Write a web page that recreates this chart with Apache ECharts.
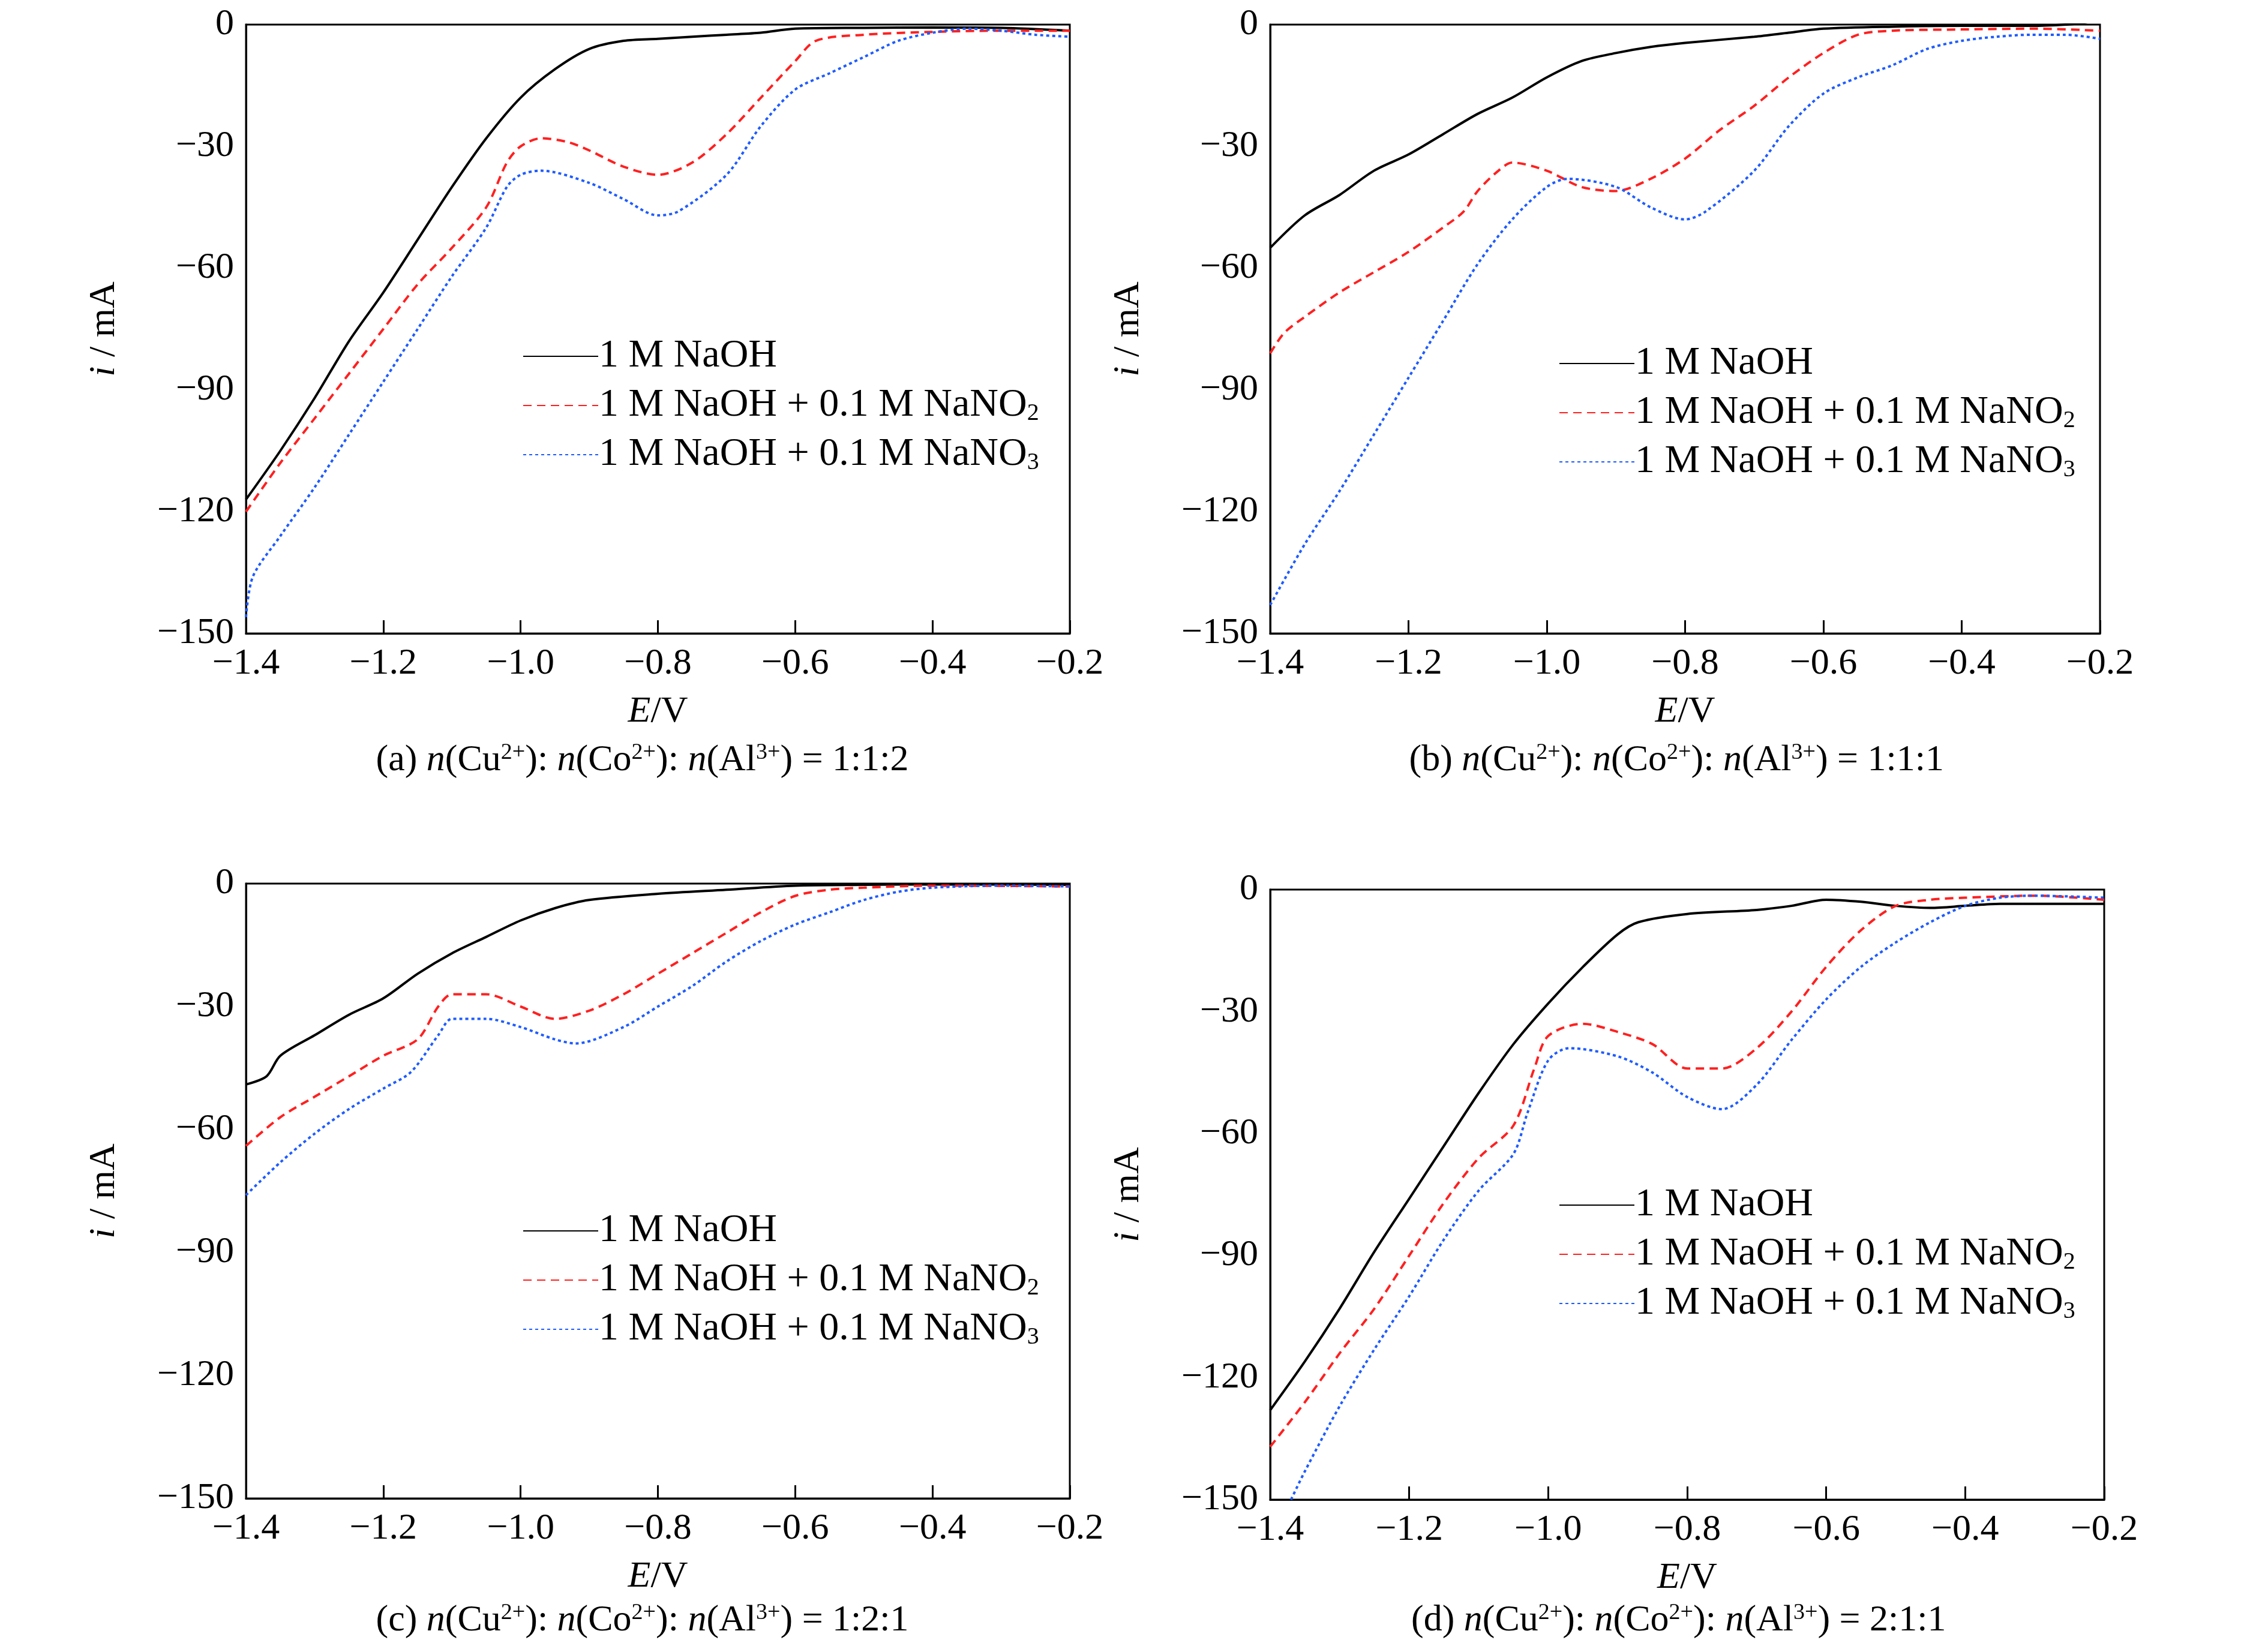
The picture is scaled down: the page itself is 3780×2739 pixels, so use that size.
<!DOCTYPE html>
<html><head><meta charset="utf-8">
<script src="https://cdn.jsdelivr.net/npm/echarts@6/dist/echarts.min.js"></script>
<style>html,body{margin:0;padding:0;background:#fff}#c{width:3780px;height:2739px}</style>
</head><body><div id="c"></div>
<script>
// Panel (a)
const aBlack = [[-1.4,-117],[-1.35,-105],[-1.3,-92],[-1.25,-78],[-1.2,-66],[-1.15,-53],[-1.1,-40],[-1.05,-28],[-1.0,-18],[-0.95,-11],[-0.9,-6],[-0.85,-4],[-0.8,-3.5],[-0.75,-3],[-0.7,-2.5],[-0.65,-2],[-0.6,-1],[-0.5,-0.8],[-0.4,-0.7],[-0.3,-0.8],[-0.2,-1.5]];
const aRed = [[-1.4,-120],[-1.35,-108],[-1.3,-97],[-1.25,-86],[-1.2,-75],[-1.15,-64],[-1.1,-55],[-1.05,-45],[-1.02,-34],[-1.0,-30],[-0.97,-28],[-0.93,-29],[-0.9,-31],[-0.85,-35],[-0.8,-37],[-0.75,-34],[-0.7,-27],[-0.65,-18],[-0.6,-9],[-0.57,-4],[-0.5,-2.5],[-0.4,-1.8],[-0.3,-1.5],[-0.2,-1.5]];
const aBlue = [[-1.4,-146],[-1.39,-136],[-1.35,-126],[-1.3,-114],[-1.25,-101],[-1.2,-88],[-1.15,-75],[-1.1,-62],[-1.05,-50],[-1.02,-40],[-1.0,-37],[-0.97,-36],[-0.9,-39],[-0.85,-43],[-0.8,-47],[-0.77,-46],[-0.7,-37],[-0.65,-25],[-0.6,-16],[-0.55,-12],[-0.5,-8],[-0.45,-4],[-0.4,-2],[-0.35,-1],[-0.3,-1.5],[-0.25,-2.5],[-0.2,-3]];
// Panel (b)
const bBlack = [[-1.4,-55],[-1.35,-47],[-1.3,-42],[-1.25,-36],[-1.2,-32],[-1.15,-27],[-1.1,-22],[-1.05,-18],[-1.0,-13],[-0.95,-9],[-0.9,-7],[-0.85,-5.5],[-0.8,-4.5],[-0.7,-3],[-0.65,-2],[-0.6,-1],[-0.5,-0.5],[-0.4,-0.3],[-0.3,-0.3],[-0.25,0],[-0.22,0.5],[-0.2,2]];
const bRed = [[-1.4,-81],[-1.38,-76],[-1.35,-72],[-1.3,-66],[-1.25,-61],[-1.2,-56],[-1.15,-50],[-1.12,-46],[-1.1,-41],[-1.07,-36],[-1.05,-34],[-1.0,-36],[-0.95,-40],[-0.9,-41],[-0.85,-38],[-0.8,-33],[-0.75,-26],[-0.7,-20],[-0.65,-13],[-0.6,-7],[-0.55,-2.5],[-0.5,-1.5],[-0.4,-1.2],[-0.3,-1],[-0.2,-1.5]];
const bBlue = [[-1.4,-143],[-1.35,-128],[-1.3,-115],[-1.25,-101],[-1.2,-87],[-1.15,-73],[-1.1,-59],[-1.05,-48],[-1.0,-40],[-0.97,-38],[-0.9,-40],[-0.85,-45],[-0.8,-48],[-0.77,-46],[-0.7,-36],[-0.65,-25],[-0.6,-17],[-0.55,-13],[-0.5,-10],[-0.45,-6],[-0.4,-4],[-0.35,-3],[-0.3,-2.5],[-0.25,-2.5],[-0.2,-3.5]];
// Panel (c)
const cBlack = [[-1.4,-49],[-1.37,-47],[-1.35,-42],[-1.3,-37],[-1.25,-32],[-1.2,-28],[-1.15,-22],[-1.1,-17],[-1.05,-13],[-1.0,-9],[-0.95,-6],[-0.9,-4],[-0.8,-2.5],[-0.7,-1.5],[-0.6,-0.5],[-0.5,-0.3],[-0.4,-0.2],[-0.2,-0.3]];
const cRed = [[-1.4,-64],[-1.35,-57],[-1.3,-52],[-1.25,-47],[-1.2,-42],[-1.15,-38],[-1.12,-30],[-1.1,-27],[-1.05,-27],[-1.0,-30],[-0.95,-33],[-0.9,-31],[-0.85,-27],[-0.8,-22],[-0.75,-17],[-0.7,-12],[-0.65,-7],[-0.6,-3],[-0.55,-1.5],[-0.5,-1],[-0.4,-0.5],[-0.2,-0.7]];
const cBlue = [[-1.4,-76],[-1.35,-68],[-1.3,-61],[-1.25,-55],[-1.2,-50],[-1.16,-46],[-1.12,-37],[-1.1,-33],[-1.05,-33],[-1.0,-35],[-0.95,-38],[-0.92,-39],[-0.85,-35],[-0.8,-30],[-0.75,-25],[-0.7,-19],[-0.65,-14],[-0.6,-10],[-0.55,-7],[-0.5,-4],[-0.45,-2],[-0.4,-1],[-0.3,-0.5],[-0.2,-0.7]];
// Panel (d)
const dBlack = [[-1.4,-128],[-1.35,-116],[-1.3,-103],[-1.25,-89],[-1.2,-76],[-1.15,-63],[-1.1,-50],[-1.05,-38],[-1.0,-28],[-0.95,-19],[-0.9,-11],[-0.87,-8],[-0.8,-6],[-0.7,-5],[-0.65,-4],[-0.6,-2.5],[-0.55,-3],[-0.5,-4],[-0.45,-4.5],[-0.4,-4],[-0.35,-3.5],[-0.25,-3.5],[-0.2,-3.5]];
const dRed = [[-1.4,-137],[-1.35,-126],[-1.3,-114],[-1.25,-103],[-1.2,-90],[-1.15,-77],[-1.1,-66],[-1.05,-58],[-1.02,-44],[-1.0,-36],[-0.95,-33],[-0.9,-35],[-0.85,-38],[-0.8,-44],[-0.75,-44],[-0.7,-39],[-0.65,-30],[-0.6,-19],[-0.55,-10],[-0.5,-4],[-0.45,-2.5],[-0.4,-2],[-0.3,-1.5],[-0.2,-2.5]];
const dBlue = [[-1.37,-150],[-1.35,-143],[-1.3,-127],[-1.25,-113],[-1.2,-100],[-1.15,-86],[-1.1,-74],[-1.05,-65],[-1.03,-55],[-1.0,-42],[-0.97,-39],[-0.9,-41],[-0.85,-45],[-0.8,-51],[-0.75,-54],[-0.7,-48],[-0.65,-37],[-0.6,-27],[-0.55,-19],[-0.5,-13],[-0.45,-8],[-0.4,-4],[-0.35,-2],[-0.3,-1.5],[-0.2,-2]];

const seriesNames = ["1 M NaOH","1 M NaOH + 0.1 M NaNO2","1 M NaOH + 0.1 M NaNO3"];
const captions = [["(a) ","1:1:2"],["(b) ","1:1:1"],["(c) ","1:2:1"],["(d) ","2:1:1"]];
const panels = [[aBlack,aRed,aBlue],[bBlack,bRed,bBlue],[cBlack,cRed,cBlue],[dBlack,dRed,dBlue]];

const FONT = "Liberation Serif";
const grids = [
  {left:410, top:41, width:1373, height:1015},
  {left:2117, top:41, width:1383, height:1015},
  {left:410, top:1473, width:1373, height:1025},
  {left:2117, top:1483, width:1390, height:1017}
];
const legendPos = [[866,556],[2593,568],[866,2014],[2593,1971]];
const minus = s => String(s).replace('-', '\u2212');

const option = {
  backgroundColor:'#fff', animation:false,
  textStyle:{fontFamily:FONT},
  grid: grids.map(g=>Object.assign({show:true,borderColor:'#000',borderWidth:3},g)),
  xAxis: grids.map((g,i)=>({
    type:'value', gridIndex:i, min:-1.4, max:-0.2, interval:0.2,
    name:'{it|E}/V', nameLocation:'middle', nameGap:100,
    nameTextStyle:{fontFamily:FONT,fontSize:62,color:'#000',rich:{it:{fontStyle:'italic',fontFamily:FONT,fontSize:62}}},
    axisLine:{onZero:false,lineStyle:{color:'#000',width:3}},
    axisTick:{inside:true,length:22,lineStyle:{color:'#000',width:3}},
    axisLabel:{fontFamily:FONT,fontSize:62,color:'#000',margin:20,formatter:v=>minus(v.toFixed(1))},
    splitLine:{show:false}
  })),
  yAxis: grids.map((g,i)=>({
    type:'value', gridIndex:i, min:-150, max:0, interval:30,
    name:'{it|i} / mA', nameLocation:'middle', nameGap:205,
    nameTextStyle:{fontFamily:FONT,fontSize:62,color:'#000',rich:{it:{fontStyle:'italic',fontFamily:FONT,fontSize:62}}},
    axisLine:{onZero:false,lineStyle:{color:'#000',width:3}},
    axisTick:{show:false},
    axisLabel:{fontFamily:FONT,fontSize:62,color:'#000',margin:20,formatter:v=>minus(v)},
    splitLine:{show:false}
  })),
  legend: legendPos.map(p=>({
    left:p[0], top:p[1], orient:'vertical', itemWidth:125, itemHeight:20, itemGap:12,
    data:seriesNames, itemStyle:{opacity:0},
    textStyle:{fontFamily:FONT,fontSize:66,color:'#000',padding:[0,0,0,-4],
      rich:{sub:{fontFamily:FONT,fontSize:40,color:'#000',verticalAlign:'bottom',lineHeight:40,padding:[30,0,0,0]}}},
    formatter:n=>n.replace(/NO(\d)$/,'NO{sub|$1}')
  })),
  series: [],
  graphic: []
};
const styles = [
  {color:'#000',type:'solid'},
  {color:'#ff2020',type:[14,9]},
  {color:'#1f5cff',type:[5,5]}
];
panels.forEach((ps,i)=>{
  ps.forEach((d,j)=>{
    option.series.push({
      type:'line', name:seriesNames[j], xAxisIndex:i, yAxisIndex:i, data:d,
      smooth:0.3, showSymbol:false, clip:true,
      lineStyle:{color:styles[j].color,width:4,type:styles[j].type},
      itemStyle:{color:styles[j].color}
    });
  });
  const g = grids[i];
  const cy = i<2 ? 1276 : 2710;
  option.graphic.push({
    type:'text', left:g.left + g.width/2 - 470 + (i%2?10:0), top:cy-40,
    style:{text:captions[i][0]+'{it|n}(Cu{sup|2+}): {it|n}(Co{sup|2+}): {it|n}(Al{sup|3+}) = '+captions[i][1],
      fontFamily:FONT,fontSize:62,fill:'#000',
      rich:{it:{fontStyle:'italic',fontFamily:FONT,fontSize:62},sup:{fontFamily:FONT,fontSize:38,verticalAlign:'top',padding:[0,0,26,0]}}}
  });
});
const chart = echarts.init(document.getElementById('c'));
chart.setOption(option);
</script></body></html>
